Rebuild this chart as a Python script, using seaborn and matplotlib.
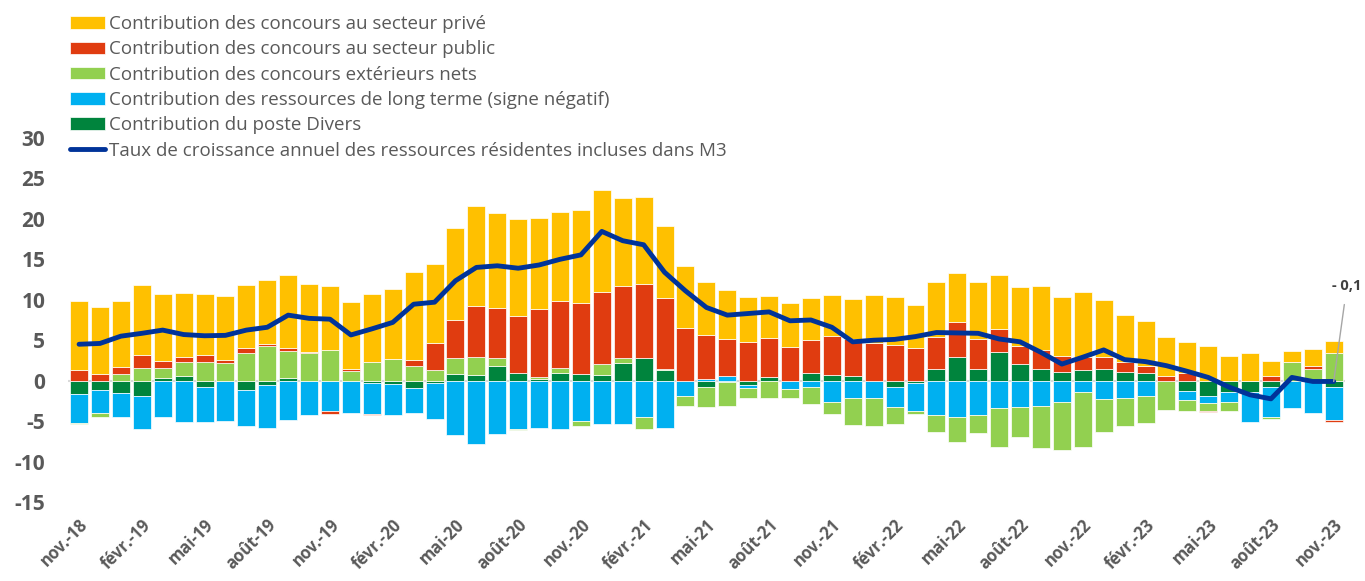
import matplotlib
matplotlib.use("Agg")
import matplotlib.pyplot as plt
import numpy as np
import pandas as pd
import seaborn as sns

# contributions en points de %, nov.-18 -> nov.-23 (61 mois)
prive = [8.5, 8.25, 8.2, 8.65, 8.3, 7.85, 7.6, 7.9, 7.75, 7.9, 9.0, 8.4, 7.85, 8.3, 8.4, 8.65,
         10.8, 9.75, 11.45, 12.4, 11.8, 11.9, 11.35, 11.0, 11.45, 12.6, 10.95, 10.7, 8.9, 7.75,
         6.55, 6.05, 5.6, 5.2, 5.45, 5.2, 5.1, 4.95, 6.0, 5.9, 5.35, 6.85, 6.15, 7.1, 6.7, 7.3,
         7.85, 7.3, 8.0, 7.1, 5.85, 5.5, 4.85, 3.75, 4.25, 3.0, 3.4, 1.9, 1.3, 2.2, 1.45]
public = [1.3, 0.8, 0.9, 1.55, 0.85, 0.6, 0.8, 0.4, 0.65, 0.2, 0.35, 0.1, -0.3, 0.15, -0.2, 0.0,
          0.85, 3.35, 4.65, 6.25, 6.2, 7.15, 8.3, 8.25, 8.85, 8.95, 8.9, 9.2, 8.85, 6.45,
          5.4, 4.65, 4.75, 4.8, 4.15, 4.05, 4.8, 4.6, 4.6, 4.45, 4.05, 3.9, 4.3, 3.7, 2.9, 2.25,
          2.3, 2.0, 1.65, 1.45, 1.25, 0.95, 0.6, 1.0, -0.1, 0.0, 0.0, 0.55, 0.0, 0.25, -0.25]
exterieurs = [-0.1, -0.5, 0.8, 1.6, 1.25, 1.75, 2.35, 2.2, 3.4, 4.3, 3.3, 3.4, 3.8, 1.25, 2.3, 2.7,
              1.75, 1.35, 2.0, 2.2, 1.0, -0.1, 0.3, 0.6, -0.6, 1.35, 0.6, -1.5, 0.1, -1.15,
              -2.45, -2.95, -1.25, -2.1, -1.2, -2.05, -1.5, -3.25, -3.45, -2.2, -0.4, -2.2, -3.15,
              -2.3, -4.9, -3.7, -5.2, -5.95, -6.8, -4.1, -3.5, -3.3, -3.6, -1.45, -1.05, -1.2, 0.0,
              -0.2, 2.35, 1.5, 3.4]
ressources = [-3.6, -2.9, -2.9, -4.1, -4.5, -5.1, -4.35, -4.85, -4.45, -5.25, -4.9, -4.25, -3.8,
              -4.0, -3.8, -3.8, -3.1, -4.5, -6.7, -7.8, -6.6, -5.95, -5.9, -5.95, -5.0, -5.35,
              -5.35, -4.45, -5.9, -1.95, 0.2, 0.55, -0.35, 0.0, -1.0, -0.8, -2.6, -2.2, -2.2,
              -2.45, -3.4, -4.2, -4.45, -4.2, -3.35, -3.3, -3.1, -2.6, -1.35, -2.25, -2.15, -1.95,
              0.0, -1.1, -0.9, -1.15, -3.7, -3.7, -3.35, -4.05, -4.1]
divers = [-1.65, -1.15, -1.55, -1.85, 0.35, 0.6, -0.8, -0.1, -1.2, -0.55, 0.35, 0.0, 0.0, 0.0,
          -0.3, -0.4, -0.95, -0.3, 0.8, 0.75, 1.75, 0.9, 0.2, 1.0, 0.8, 0.7, 2.15, 2.8, 1.3, 0.0,
          -0.75, -0.2, -0.55, 0.5, 0.0, 1.0, 0.7, 0.55, 0.0, -0.75, -0.3, 1.45, 2.9, 1.4, 3.5,
          2.05, 1.5, 1.1, 1.3, 1.45, 1.05, 0.9, 0.0, -1.25, -1.85, -1.45, -1.35, -0.8, 0.0, 0.0,
          -0.75]
taux = [4.5, 4.6, 5.5, 5.85, 6.25, 5.7, 5.55, 5.6, 6.25, 6.6, 8.1, 7.7, 7.6, 5.65, 6.4, 7.2,
        9.45, 9.7, 12.35, 14.0, 14.2, 13.9, 14.3, 15.0, 15.55, 18.45, 17.3, 16.8, 13.4, 11.1,
        9.05, 8.1, 8.3, 8.5, 7.4, 7.5, 6.6, 4.8, 5.0, 5.1, 5.45, 5.95, 5.9, 5.85, 5.15, 4.8,
        3.5, 2.05, 2.9, 3.8, 2.6, 2.35, 1.85, 1.15, 0.4, -0.8, -1.75, -2.25, 0.4, -0.1, -0.1]

tick_labels = ["nov.-18", "févr.-19", "mai-19", "août-19", "nov.-19", "févr.-20", "mai-20",
               "août-20", "nov.-20", "févr.-21", "mai-21", "août-21", "nov.-21", "févr.-22",
               "mai-22", "août-22", "nov.-22", "févr.-23", "mai-23", "août-23", "nov.-23"]

noms = ["Contribution des concours au secteur privé",
        "Contribution des concours au secteur public",
        "Contribution des concours extérieurs nets",
        "Contribution des ressources de long terme (signe négatif)",
        "Contribution du poste Divers"]
couleurs = ["#FFC000", "#E03C10", "#92D050", "#00B0F0", "#00843D"]
nom_taux = "Taux de croissance annuel des ressources résidentes incluses dans M3"

sns.set_theme(style="white")
plt.rcParams["font.family"] = ["Open Sans", "DejaVu Sans"]
gris = "#595959"

fig = plt.figure(figsize=(13.65, 5.81), dpi=100)
ax = fig.add_axes([0.0495, 0.136, 0.936, 0.6265])

x = np.arange(len(taux))
series = [prive, public, exterieurs, ressources, divers]
pos = np.zeros(len(x))
neg = np.zeros(len(x))
# Excel empile depuis le poste Divers vers le secteur privé
for vals, nom, c in reversed(list(zip(series, noms, couleurs))):
    v = np.array(vals)
    base = np.where(v >= 0, pos, neg)
    ax.bar(x, v, bottom=base, width=0.86, color=c, edgecolor="white", linewidth=0.5,
           label=nom, zorder=2)
    pos += np.clip(v, 0, None)
    neg += np.clip(v, None, 0)

ax.axhline(0, color="#d9d9d9", lw=1.5, zorder=1)

df = pd.DataFrame({"x": x, "taux": taux})
sns.lineplot(data=df, x="x", y="taux", ax=ax, color="#003399", lw=3.5, zorder=3,
             label=nom_taux)

ax.annotate("- 0,1", xy=(x[-1], taux[-1]), xytext=(60.63, 11.7), ha="center", va="center",
            fontsize=10.5, fontweight="bold", color="#404040",
            arrowprops=dict(arrowstyle="-", color="#a6a6a6", lw=1, shrinkA=6, shrinkB=0))

ax.set_xlim(-0.55, len(x) - 0.45)
ax.set_ylim(-15, 30)
ax.set_yticks(range(-15, 31, 5))
ax.set_yticklabels([str(t) for t in range(-15, 31, 5)], fontsize=15, fontweight="bold", color=gris)
ax.set_xticks(x[::3])
ax.set_xticklabels(tick_labels, rotation=45, ha="right", va="top", rotation_mode="anchor",
                   fontsize=12, fontweight="bold", color=gris)
ax.tick_params(axis="y", length=0, pad=16)
ax.tick_params(axis="x", length=0, pad=10)
ax.set_xlabel("")
ax.set_ylabel("")
for s in ax.spines.values():
    s.set_visible(False)

h, l = ax.get_legend_handles_labels()
order = [l.index(n) for n in noms + [nom_taux]]
ax.legend([h[i] for i in order], [l[i] for i in order], loc="upper left",
          bbox_to_anchor=(70 / 1365, 1 - 15 / 581), bbox_transform=fig.transFigure,
          frameon=False, fontsize=13.5, labelcolor=gris, handlelength=1.87, handleheight=0.64,
          handletextpad=0.2, labelspacing=0.39, borderpad=0, borderaxespad=0)

fig.savefig("out.png", dpi=100)
